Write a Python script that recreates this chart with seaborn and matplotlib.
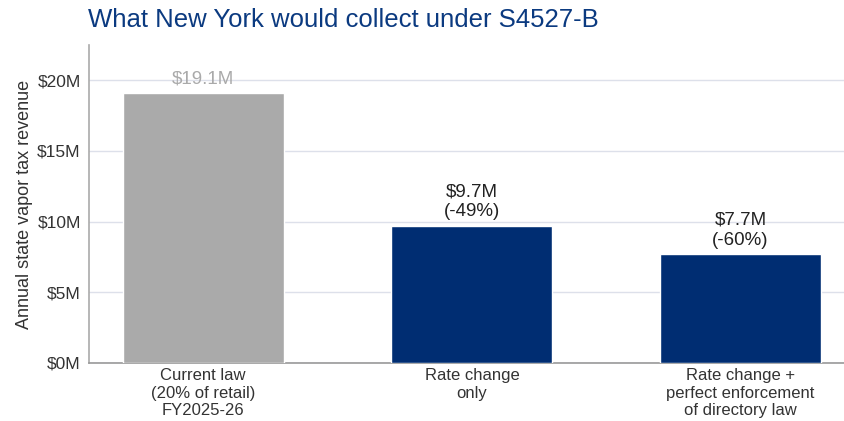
import matplotlib
matplotlib.use("Agg")
import matplotlib.pyplot as plt
import seaborn as sns
import pandas as pd

# Chart data
scenarios = ["Current law\n(20% of retail)\nFY2025-26",
             "Rate change\nonly",
             "Rate change +\nperfect enforcement\nof directory law"]
revenue = [19.1, 9.7, 7.7]  # $M
bar_labels = ["$19.1M", "$9.7M\n(-49%)", "$7.7M\n(-60%)"]
yticks = [0, 5, 10, 15, 20]

bar_colors = ["#aaaaaa", "#002d72", "#002d72"]
label_colors = ["#aaaaaa", "#222222", "#222222"]

sns.set_theme(style="white")
plt.rcParams['font.family'] = ['Liberation Sans', 'DejaVu Sans']

df = pd.DataFrame({"Scenario": scenarios, "Revenue": revenue})

fig = plt.figure(figsize=(8.44, 4.21), dpi=100)
ax = fig.add_axes([0.1055, 0.138, 0.8945, 0.755])

sns.barplot(data=df, x="Scenario", y="Revenue", hue="Scenario",
            palette=bar_colors, width=0.6, saturation=1, legend=False,
            ax=ax, zorder=3)

for i, (v, lab) in enumerate(zip(revenue, bar_labels)):
    ax.annotate(lab, (i, v), xytext=(0, 4), textcoords="offset points",
                ha="center", va="bottom", fontsize=13.5,
                color=label_colors[i], linespacing=1.25, zorder=4)

ax.set_ylim(0, 22.5)
ax.set_xlim(-0.425, 2.385)
ax.set_yticks(yticks)
ax.set_yticklabels([f"${t}M" for t in yticks])
ax.grid(axis="y", color="#dde0ea", linewidth=1, zorder=0)
ax.set_axisbelow(True)

for s in ["top", "right"]:
    ax.spines[s].set_visible(False)
ax.spines["left"].set_color("#aaaaaa")
ax.spines["bottom"].set_color("#999999")
ax.spines["left"].set_linewidth(1.2)
ax.spines["bottom"].set_linewidth(1.2)

ax.tick_params(axis="x", length=0, labelsize=12, colors="#333333", pad=4)
ax.tick_params(axis="y", length=0, labelsize=12.5, colors="#333333", pad=6)
ax.set_xlabel("")
ax.set_ylabel("Annual state vapor tax revenue", fontsize=13, color="#333333",
              labelpad=3)

fig.text(0.1043, 0.953, "What New York would collect under S4527-B",
         fontsize=18.5, color="#0b3a80", ha="left", va="center")

fig.savefig("out.png", dpi=100)
